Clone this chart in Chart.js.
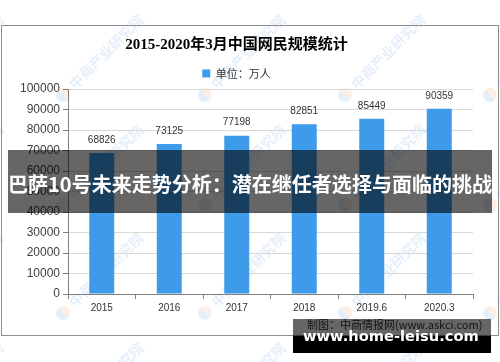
<!DOCTYPE html>
<html>
<head>
<meta charset="utf-8">
<script src="https://cdn.jsdelivr.net/npm/chart.js@4.4.1/dist/chart.umd.min.js"></script>
<style>
  body { margin: 0; background: #fff; }
  #main-chart { display: block; }
</style>
</head>
<body>
<canvas id="main-chart" width="500" height="362"></canvas>
<script>
const labels = ['2015', '2016', '2017', '2018', '2019.6', '2020.3'];
const users = [68826, 73125, 77198, 82851, 85449, 90359];
const seriesName = '单位：万人';
const titleText = '2015-2020年3月中国网民规模统计';
const sourceText = '制图：中商情报网(www.askci.com)';
const bannerText = '巴萨10号未来走势分析：潜在继任者选择与面临的挑战';
const siteText = 'www.home-leisu.com';
const watermarkText = '中商产业研究院';

const cjk = '"Noto Sans CJK SC", sans-serif';

// fits a line of text into a given width
function fitFont(ctx, text, weight, family, width) {
    ctx.font = weight + ' 20px ' + family;
    const size = 20 * width / ctx.measureText(text).width;
    ctx.font = weight + ' ' + size.toFixed(2) + 'px ' + family;
}

const backdrop = {
    id: 'backdrop',
    beforeDraw(chart) {
        const ctx = chart.ctx;
        ctx.save();
        ctx.fillStyle = '#fff';
        ctx.fillRect(0, 0, chart.width, chart.height);

        // faint watermarks
        const xs = [-77, 63, 205, 345, 490];
        const ys = [-15, 95, 205, 313, 423];
        ys.forEach(y => xs.forEach(x => {
            ctx.save();
            ctx.translate(x, y);
            ctx.rotate(-Math.PI / 4);
            ctx.globalAlpha = 0.14;
            ctx.beginPath();
            ctx.arc(0, 0, 7, Math.PI * 0.5, Math.PI * 1.5);
            ctx.fillStyle = '#4a90d9';
            ctx.fill();
            ctx.beginPath();
            ctx.arc(0, 0, 7, -Math.PI * 0.5, Math.PI * 0.5);
            ctx.fillStyle = '#f08a4b';
            ctx.fill();
            ctx.fillStyle = '#4a90d9';
            ctx.font = 'bold 14px ' + cjk;
            ctx.textBaseline = 'middle';
            ctx.fillText(watermarkText, 12, 0);
            ctx.restore();
        }));

        ctx.strokeStyle = '#8c8c8c';
        ctx.lineWidth = 1;
        ctx.strokeRect(1.5, 25.5, 497, 310);
        ctx.restore();
    }
};

const valueLabels = {
    id: 'valueLabels',
    afterDatasetsDraw(chart) {
        const ctx = chart.ctx;
        const meta = chart.getDatasetMeta(0);
        ctx.save();
        ctx.font = '10px "Liberation Sans", Arial, sans-serif';
        ctx.fillStyle = '#333';
        ctx.textAlign = 'center';
        ctx.textBaseline = 'middle';
        meta.data.forEach((bar, i) => {
            ctx.fillText(String(chart.data.datasets[0].data[i]), bar.x, bar.y - 13);
        });
        ctx.restore();
    }
};

const overlays = {
    id: 'overlays',
    afterDraw(chart) {
        const ctx = chart.ctx;
        ctx.save();

        // source line sits under the bottom banner
        ctx.font = '11px ' + cjk;
        ctx.fillStyle = '#333';
        ctx.textBaseline = 'middle';
        ctx.fillText(sourceText, 307, 325);

        // headline banner across the chart
        ctx.fillStyle = 'rgba(0, 0, 0, 0.6)';
        ctx.fillRect(8, 150, 484, 63);
        ctx.fillStyle = '#fff';
        ctx.textAlign = 'center';
        fitFont(ctx, bannerText, 'bold', cjk, 484);
        ctx.fillText(bannerText, 250, 184);

        // site banner bottom right
        ctx.fillStyle = 'rgba(0, 0, 0, 0.6)';
        ctx.fillRect(293, 319, 198, 17);
        ctx.fillStyle = '#000';
        ctx.fillRect(293, 336, 198, 17);
        ctx.fillStyle = '#fff';
        ctx.textAlign = 'left';
        fitFont(ctx, siteText, 'bold', '"DejaVu Sans", sans-serif', 176);
        ctx.fillText(siteText, 303, 337);

        ctx.restore();
    }
};

const data = {
    labels: labels,
    datasets: [{
        label: seriesName,
        data: users,
        backgroundColor: '#3d9bea',
        borderWidth: 0,
        categoryPercentage: 1,
        barPercentage: 0.37,
    }]
};

const config = {
    type: 'bar',
    data: data,
    options: {
        responsive: false,
        animation: false,
        layout: {
            padding: { top: 34, right: 27, bottom: 48, left: 0 }
        },
        plugins: {
            title: {
                display: true,
                text: titleText,
                color: '#000',
                font: { size: 15, weight: 'bold', family: '"Liberation Serif", "Noto Sans CJK SC", serif', lineHeight: 1.2 },
                padding: { top: 2, bottom: 0 },
            },
            legend: {
                display: true,
                labels: {
                    boxWidth: 8,
                    boxHeight: 8,
                    padding: 14,
                    color: '#333',
                    font: { size: 11, family: cjk },
                }
            },
            tooltip: { enabled: false },
        },
        scales: {
            x: {
                offset: true,
                grid: {
                    drawOnChartArea: false,
                    tickLength: 5,
                    tickColor: '#808080',
                },
                border: { color: '#808080' },
                ticks: {
                    color: '#333',
                    padding: 3,
                    font: { size: 10, family: '"Liberation Sans", Arial, sans-serif' },
                },
                afterFit: (scale) => { scale.height = 20; },
            },
            y: {
                min: 0,
                max: 100000,
                grid: {
                    color: '#d9d9d9',
                    tickColor: '#808080',
                    tickLength: 5,
                },
                border: { color: '#808080' },
                ticks: {
                    stepSize: 10000,
                    color: '#404040',
                    padding: 3,
                    font: { size: 12, family: '"Liberation Sans", Arial, sans-serif' },
                    callback: (value) => String(value),
                },
                afterFit: (scale) => { scale.width = 68; },
            }
        }
    },
    plugins: [backdrop, valueLabels, overlays],
};

const myChart = new Chart(document.getElementById('main-chart'), config);
</script>
</body>
</html>
